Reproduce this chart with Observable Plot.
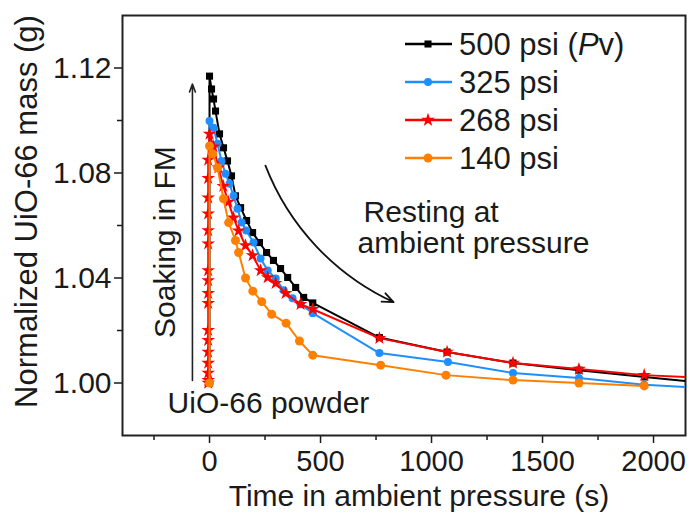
<!DOCTYPE html>
<html><head><meta charset="utf-8">
<script src="https://cdn.jsdelivr.net/npm/d3@7"></script>
<script src="https://cdn.jsdelivr.net/npm/@observablehq/plot@0.6"></script>
<style>
body{margin:0;background:#fff;}
#wrap{position:relative;width:690px;height:519px;font-family:Arial,"Liberation Sans",sans-serif;}
#legend{position:absolute;left:0;top:0;pointer-events:none;}
</style></head><body><div id="wrap"></div>
<script>
// ---- data ----
const seriesNames = ["500 psi", "325 psi", "268 psi", "140 psi"];
const seriesColors = ["#000000", "#1E8FFF", "#FF0000", "#FF8000"];

const tBlack = [0, 0, 9, 18, 27, 45, 63, 81, 99, 117, 140, 167, 194, 225, 257, 288, 320, 352, 388, 424, 465, 765, 1070, 1367, 1664, 1960, 2260];
const mBlack = [1.000, 1.1169, 1.1120, 1.1082, 1.1036, 1.0949, 1.0896, 1.0846, 1.0789, 1.0713, 1.0668, 1.0619, 1.0573, 1.0535, 1.0497, 1.0467, 1.0436, 1.0402, 1.0364, 1.0326, 1.0305, 1.0173, 1.0118, 1.0076, 1.0049, 1.0023, 0.9998];

const tBlue = [0, 0, 18, 36, 54, 72, 90, 108, 126, 145, 165, 198, 230, 262, 298, 334, 374, 410, 465, 765, 1074, 1367, 1664, 1958, 2260];
const mBlue = [1.000, 1.0998, 1.0972, 1.0911, 1.0846, 1.0797, 1.0759, 1.0713, 1.0664, 1.0611, 1.0581, 1.0535, 1.0474, 1.0429, 1.0398, 1.0353, 1.0323, 1.0300, 1.0266, 1.0114, 1.0080, 1.0038, 1.0019, 0.9993, 0.9980];

const tRed = [-6, -6, -6, -6, -6, -6, -6, -6, -6, -6, -6, -6, -6, -6, -6, -6, -6, 0, 18, 40, 62, 85, 108, 131, 162, 194, 230, 262, 298, 343, 410, 465, 765, 1070, 1367, 1664, 1958, 2260];
const mRed = [1.000, 1.0011, 1.0038, 1.0076, 1.0118, 1.0163, 1.0201, 1.0304, 1.0342, 1.0391, 1.0429, 1.0531, 1.0581, 1.0645, 1.0706, 1.0780, 1.0850, 1.0949, 1.0900, 1.0820, 1.0750, 1.0690, 1.0630, 1.0580, 1.0524, 1.0486, 1.0429, 1.0402, 1.0380, 1.0342, 1.0300, 1.0281, 1.0171, 1.0118, 1.0076, 1.0053, 1.0030, 1.0018];

const tOrange = [0, 0, 14, 36, 63, 86, 117, 131, 162, 195, 235, 280, 345, 405, 465, 771, 1065, 1367, 1664, 1958];
const mOrange = [1.000, 1.0903, 1.0873, 1.0820, 1.0702, 1.0611, 1.0543, 1.0497, 1.0400, 1.0350, 1.0310, 1.0262, 1.0228, 1.0160, 1.0106, 1.0068, 1.0030, 1.0011, 1.0000, 0.9989];

const xMajor = [0, 500, 1000, 1500, 2000];
const xMinor = [-250, 250, 750, 1250, 1750];
const yMajor = [1.00, 1.04, 1.08, 1.12];
const yMinor = [1.02, 1.06, 1.10];

// annotations
const soakArrow = [{t: -77, m1: 1.001, m2: 1.1139}];
const restArrow = [{t1: 252, m1: 1.0828, t2: 829, m2: 1.0308}];
const soakNote = [{t: -198, m: 1.0537, text: "Soaking in FM"}];
const leftNotes = [
  {t: -189, m: 0.9924, text: "UiO-66 powder"},
  {t: 694, m: 1.0649, text: "Resting at"},
  {t: 667, m: 1.0532, text: "ambient pressure"}
];

const rows = (ts, ms) => ts.map((t, i) => ({t, m: ms[i]}));
const black = rows(tBlack, mBlack), blue = rows(tBlue, mBlue), red = rows(tRed, mRed), orange = rows(tOrange, mOrange);

const font = "Arial, 'Liberation Sans', sans-serif";
const plot = Plot.plot({
  width: 690, height: 519,
  marginLeft: 122, marginTop: 15, marginRight: 5, marginBottom: 84,
  style: {fontFamily: font, color: "#1a1a1a", background: "white", overflow: "visible"},
  x: {domain: [-392, 2144]},
  y: {domain: [0.98, 1.14]},
  marks: [
    Plot.axisX({ticks: xMajor, tickSize: 8, tickPadding: 7, fontSize: 29, label: null, strokeWidth: 1.5, tickFormat: d3.format("d")}),
    Plot.axisX({ticks: xMinor, tickSize: 5, label: null, strokeWidth: 1.5, tickFormat: () => ""}),
    Plot.axisY({ticks: yMajor, tickSize: 8, tickPadding: 3, fontSize: 30, label: null, strokeWidth: 1.5, tickFormat: d3.format(".2f")}),
    Plot.axisY({ticks: yMinor, tickSize: 5, label: null, strokeWidth: 1.5, tickFormat: () => ""}),
    Plot.frame({stroke: "#222", strokeWidth: 2}),
    // series
    Plot.line(black, {x: "t", y: "m", stroke: seriesColors[0], strokeWidth: 2, clip: true}),
    Plot.dot(black, {x: "t", y: "m", symbol: "square", r: 4, fill: seriesColors[0], clip: true}),
    Plot.line(blue, {x: "t", y: "m", stroke: seriesColors[1], strokeWidth: 2, clip: true}),
    Plot.dot(blue, {x: "t", y: "m", symbol: "circle", r: 4, fill: seriesColors[1], clip: true}),
    Plot.line(red, {x: "t", y: "m", stroke: seriesColors[2], strokeWidth: 2, clip: true}),
    Plot.dot(red, {x: "t", y: "m", symbol: "star", r: 4.3, fill: seriesColors[2], clip: true}),
    Plot.line(orange, {x: "t", y: "m", stroke: seriesColors[3], strokeWidth: 2, clip: true}),
    Plot.dot(orange, {x: "t", y: "m", symbol: "circle", r: 4.5, fill: seriesColors[3], clip: true}),
    // annotations
    Plot.arrow(soakArrow, {x1: "t", x2: "t", y1: "m1", y2: "m2", stroke: "#222", strokeWidth: 1.6, headLength: 8, headAngle: 40}),
    Plot.arrow(restArrow, {x1: "t1", y1: "m1", x2: "t2", y2: "m2", bend: -22, stroke: "#111", strokeWidth: 1.8, headLength: 10, headAngle: 45}),
    Plot.text(soakNote, {x: "t", y: "m", text: "text", rotate: -90, textAnchor: "middle", fontSize: 30, fill: "#1a1a1a"}),
    Plot.text(leftNotes, {x: "t", y: "m", text: "text", textAnchor: "start", fontSize: 30, fill: "#1a1a1a"}),
    // axis titles
    Plot.text(["Time in ambient pressure (s)"], {frameAnchor: "bottom", dy: 70, dx: 15, fontSize: 30, fill: "#1a1a1a"}),
    Plot.text(["Normalized UiO-66 mass (g)"], {frameAnchor: "left", dx: -95, dy: -14, rotate: -90, textAnchor: "middle", fontSize: 31, fill: "#1a1a1a"})
  ]
});
const wrap = document.getElementById("wrap");
wrap.appendChild(plot);

// legend overlay
const leg = d3.select(wrap).append("svg").attr("id", "legend").attr("width", 690).attr("height", 519)
  .attr("font-family", font).attr("font-size", 31).attr("fill", "#1a1a1a");
const symbols = [d3.symbolSquare, d3.symbolCircle, d3.symbolStar, d3.symbolCircle];
const symSizes = [50, 50, 60, 64];
seriesNames.forEach((name, i) => {
  const y = 44 + i * 38;
  const g = leg.append("g").attr("transform", `translate(0,${y})`);
  g.append("line").attr("x1", 405).attr("x2", 452).attr("y1", 0).attr("y2", 0)
    .attr("stroke", seriesColors[i]).attr("stroke-width", 2.5);
  g.append("path").attr("d", d3.symbol(symbols[i], symSizes[i])()).attr("transform", "translate(428,0)").attr("fill", seriesColors[i]);
  const t = g.append("text").attr("x", 459).attr("y", 0).attr("dy", "0.35em");
  if (i === 0) {
    t.append("tspan").text(name + " (");
    t.append("tspan").attr("font-style", "italic").text("P");
    t.append("tspan").text("v)");
  } else {
    t.text(name);
  }
});
</script></body></html>
